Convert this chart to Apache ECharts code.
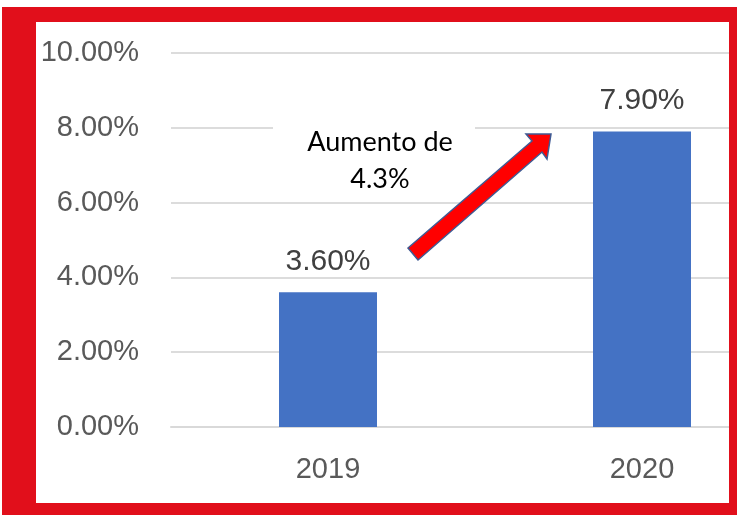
<!DOCTYPE html>
<html>
<head>
<meta charset="utf-8">
<script src="https://cdn.jsdelivr.net/npm/echarts@6/dist/echarts.min.js"></script>
<style>
  html, body { margin: 0; padding: 0; background: #fff; }
  #wrap { width: 739px; height: 515px; overflow: hidden; }
  #chart { width: 799px; height: 515px; }
</style>
</head>
<body>
<div id="wrap"><div id="chart"></div></div>
<script>
// datos
var years = ['2019', '2020'];
var rates = [3.6, 7.9];
var yMax = 10;
var yStep = 2;
var noteLines = ['Aumento de', '4.3%'];

var red = '#e10f1b';
var grey = '#595959';

function pct(v) {
    return v.toFixed(2) + '%';
}

// el area del grafico sigue mas alla del recorte de la imagen
var myChart = echarts.init(document.getElementById('chart'));
var option = {
    backgroundColor: '#fff',
    animation: false,
    grid: {
        left: 171,
        right: 0,
        top: 53,
        bottom: 88
    },
    xAxis: {
        type: 'category',
        data: years,
        axisLine: { lineStyle: { color: '#d9d9d9', width: 2 } },
        axisTick: { show: false },
        axisLabel: {
            margin: 28,
            color: grey,
            fontFamily: 'Liberation Sans',
            fontSize: 29
        }
    },
    yAxis: {
        type: 'value',
        min: 0,
        max: yMax,
        interval: yStep,
        axisLine: { show: false },
        axisTick: { show: false },
        splitLine: { lineStyle: { color: '#dcdcdc', width: 2 } },
        axisLabel: {
            margin: 32,
            color: grey,
            fontFamily: 'Liberation Sans',
            fontSize: 29,
            formatter: function (v) { return pct(v); }
        }
    },
    series: [
        {
            type: 'bar',
            data: rates,
            barWidth: 98,
            itemStyle: { color: '#4472c4' },
            label: {
                show: true,
                position: 'top',
                distance: 16,
                color: '#404040',
                fontFamily: 'Liberation Sans',
                fontSize: 30,
                formatter: function (p) { return pct(p.value); }
            }
        }
    ],
    graphic: [
        // caja blanca del texto
        {
            type: 'rect',
            shape: { x: 273, y: 96, width: 202, height: 98 },
            style: { fill: '#fff' },
            z: 50
        },
        {
            type: 'text',
            x: 380,
            y: 142,
            style: {
                text: noteLines[0],
                fill: '#000',
                font: '27px Lato',
                textAlign: 'center',
                textVerticalAlign: 'middle'
            },
            z: 60
        },
        {
            type: 'text',
            x: 380,
            y: 179,
            style: {
                text: noteLines[1],
                fill: '#000',
                font: '27px Lato',
                textAlign: 'center',
                textVerticalAlign: 'middle'
            },
            z: 60
        },
        // flecha roja
        {
            type: 'polygon',
            shape: {
                points: [[408, 248], [532, 141], [526, 134], [551, 134],
                         [547, 159], [542, 152], [418, 260]]
            },
            style: { fill: '#ff0000', stroke: '#3f5a93', lineWidth: 1.5 },
            z: 70
        },
        // marco rojo
        { type: 'rect', shape: { x: 2, y: 7, width: 34, height: 508 }, style: { fill: red }, z: 100 },
        { type: 'rect', shape: { x: 2, y: 7, width: 735, height: 15 }, style: { fill: red }, z: 100 },
        { type: 'rect', shape: { x: 729, y: 7, width: 8, height: 508 }, style: { fill: red }, z: 100 },
        { type: 'rect', shape: { x: 2, y: 503, width: 735, height: 12 }, style: { fill: red }, z: 100 },
        { type: 'rect', shape: { x: 737, y: 0, width: 62, height: 515 }, style: { fill: '#fff' }, z: 100 }
    ]
};
myChart.setOption(option);
</script>
</body>
</html>
